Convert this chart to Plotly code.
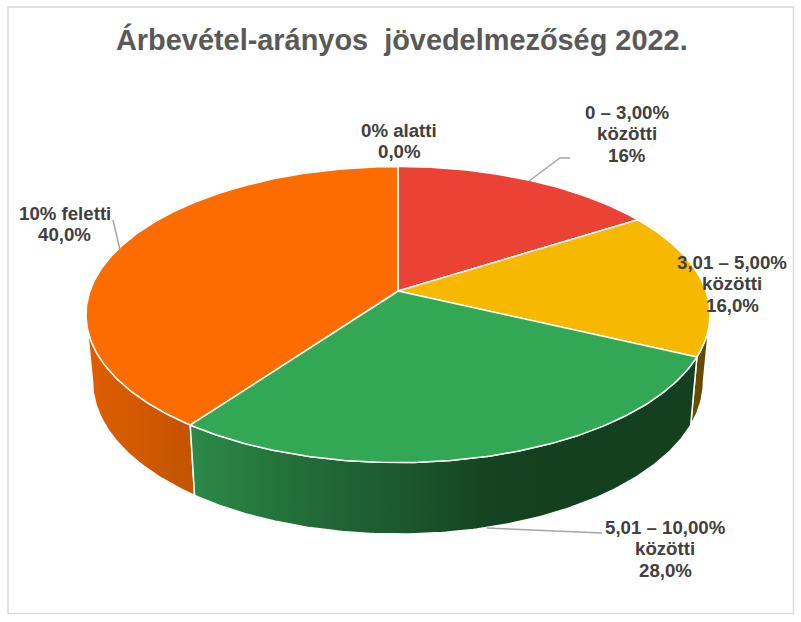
import numpy as np
import plotly.graph_objects as go

title = "Árbevétel-arányos  jövedelmezőség 2022."
categories = ["0% alatti", "0 – 3,00% közötti", "3,01 – 5,00% közötti", "5,01 – 10,00% közötti", "10% feletti"]
values = [0, 16, 16, 28, 40]
top_colors = ["#FF6D01", "#EA4335", "#F7B800", "#32A855", "#FC6C00"]

label_lines = [
    ["0% alatti", "0,0%"],
    ["0 – 3,00%", "közötti", "16%"],
    ["3,01 – 5,00%", "közötti", "16,0%"],
    ["5,01 – 10,00%", "közötti", "28,0%"],
    ["10% feletti", "40,0%"],
]
label_x = [399, 627, 732, 665, 64.5]
label_y = [130, 112, 262, 527, 213]
leaders_x = [[113, 120], [570, 560, 529], [602, 487]]
leaders_y = [[220, 250], [158, 158, 181], [533, 528]]

# projection of the pie disc on the page (perspective view)
cx, cy = 398, 291
a, b, k = 308, 144.3, 0.159
ell_cy, ell_rx, ell_ry = 314.5, 312.0, 148.0       # top rim
bot_cy, bot_rx, bot_ry = 381.5, 305.5, 152.5       # bottom rim


def top_rim(theta):
    u, v = np.sin(theta), np.cos(theta)
    w = 1 + k * v
    return cx + a * u / w, cy - b * v / w


def bottom_rim(theta):
    x, y = top_rim(theta)
    return cx + (x - cx) / ell_rx * bot_rx, bot_cy + (y - ell_cy) / ell_ry * bot_ry


def arc(start, stop):
    return np.linspace(start, stop, max(2, int(abs(stop - start) * 90)))


fractions = np.cumsum([0] + values) / sum(values)
angles = fractions * 2 * np.pi
right_sil = np.arccos(-k)
left_sil = 2 * np.pi - right_sil

fig = go.Figure()


def wall(start, stop, colorscale):
    t = arc(start, stop)
    xt, yt = top_rim(t)
    xb, yb = bottom_rim(t[::-1])
    x = np.r_[xt, xb, xt[0]]
    y = np.r_[yt, yb, yt[0]]
    fig.add_trace(go.Scatter(
        x=x, y=y, mode="lines", fill="toself",
        line=dict(color="white", width=1.5),
        fillgradient=dict(type="horizontal", colorscale=colorscale),
        hoverinfo="skip", showlegend=False,
    ))


wall(angles[4], left_sil, [[0, "#E05E00"], [1, "#C25400"]])
wall(right_sil, angles[3], [[0, "#6A5000"], [1, "#5E4600"]])
wall(angles[3], angles[4], [
    [0, "#2C8A48"], [0.2, "#236F39"], [0.4, "#1C5A2E"], [0.58, "#164422"],
    [0.7, "#144020"], [1, "#144020"],
])

for i, name in enumerate(categories):
    t = arc(angles[i], angles[i + 1])
    xr, yr = top_rim(t)
    fig.add_trace(go.Scatter(
        x=np.r_[cx, xr, cx], y=np.r_[cy, yr, cy], mode="lines", fill="toself",
        fillcolor=top_colors[i], line=dict(color="white", width=1.5),
        name=name, hoverinfo="name", showlegend=False,
    ))

for lx, ly in zip(leaders_x, leaders_y):
    fig.add_trace(go.Scatter(
        x=lx, y=ly, mode="lines", line=dict(color="#A6A6A6", width=1.5),
        hoverinfo="skip", showlegend=False,
    ))

line_step = 21.6
for lines, x0, y0 in zip(label_lines, label_x, label_y):
    for j, text in enumerate(lines):
        fig.add_annotation(
            x=x0, y=y0 + j * line_step, text=f"<b>{text}</b>", showarrow=False,
            xanchor="center", yanchor="middle",
            font=dict(family="Liberation Sans", size=18.67, color="#404040"),
        )

fig.add_annotation(
    x=401.5, y=39, text=f"<b>{title}</b>", showarrow=False,
    xanchor="center", yanchor="middle",
    font=dict(family="Liberation Sans", size=28.9, color="#595959"),
)

fig.add_shape(type="rect", x0=8, y0=7, x1=793.5, y1=613.5, xref="x", yref="y",
              line=dict(color="#D9D9D9", width=1.5), layer="below")

fig.update_layout(
    width=801, height=622, margin=dict(l=0, r=0, t=0, b=0),
    paper_bgcolor="white", plot_bgcolor="white", showlegend=False,
    xaxis=dict(range=[0, 801], visible=False, fixedrange=True),
    yaxis=dict(range=[622, 0], visible=False, fixedrange=True),
)

fig.write_html(
    "out.html",
    config={"displayModeBar": False},
    post_script="document.body.style.margin='0';document.body.style.overflow='hidden';",
)
